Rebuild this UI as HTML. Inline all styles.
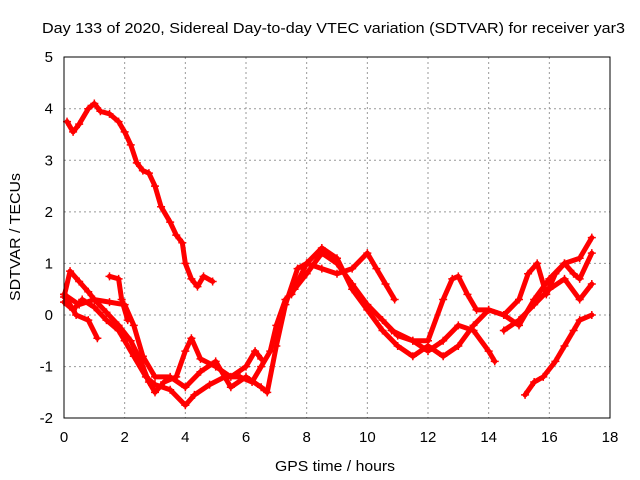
<!DOCTYPE html>
<html><head><meta charset="utf-8"><style>
body{margin:0;background:#fff}
svg{display:block;font-family:"Liberation Sans",sans-serif}
</style></head><body>
<svg id="c" width="640" height="480">
<rect width="640" height="480" fill="#fff"/>
<text x="42" y="33" font-size="15" textLength="583" lengthAdjust="spacingAndGlyphs">Day 133 of 2020, Sidereal Day-to-day VTEC variation (SDTVAR) for receiver yar3</text>
<text x="275" y="471" font-size="15" textLength="120" lengthAdjust="spacingAndGlyphs">GPS time / hours</text>
<text transform="translate(20,301) rotate(-90)" font-size="15" textLength="128" lengthAdjust="spacingAndGlyphs">SDTVAR / TECUs</text>
<g id="grid"></g><g id="marks"></g>
<rect x="64" y="57" width="546" height="361" fill="none" stroke="#000"/>
</svg>
<script>
const xTicks=[0,2,4,6,8,10,12,14,16,18];
const yTicks=[-2,-1,0,1,2,3,4,5];
const trackA=[[0.1,3.75],[0.3,3.55],[0.5,3.7],[0.8,4.0],[1.0,4.1],[1.2,3.95],[1.5,3.9],[1.8,3.75],[2.0,3.55],[2.2,3.3],[2.4,2.95],[2.6,2.8],[2.8,2.75],[3.0,2.5],[3.2,2.1],[3.5,1.8],[3.7,1.55],[3.9,1.4],[4.0,1.0],[4.2,0.7],[4.4,0.55],[4.6,0.75],[4.9,0.65]];
const trackB=[[0,0.35],[0.2,0.85],[0.5,0.65],[0.8,0.45],[1.0,0.3],[1.4,0.05],[1.8,-0.2],[2.2,-0.5],[2.5,-0.85],[2.8,-1.3],[3.0,-1.5],[3.3,-1.3],[3.7,-1.2],[4.0,-0.7],[4.2,-0.45],[4.5,-0.85],[5.0,-1.0],[5.5,-1.2],[6.0,-1.0],[6.3,-0.7],[6.5,-0.85]];
const trackC=[[0,0.25],[0.3,0.1],[0.6,0.3],[1.0,0.15],[1.4,-0.1],[1.8,-0.3],[2.0,-0.5],[2.3,-0.8],[2.7,-1.2],[3.0,-1.35],[3.5,-1.45],[4.0,-1.75],[4.3,-1.55],[4.8,-1.35],[5.3,-1.2],[5.8,-1.2],[6.2,-1.3],[6.5,-1.0],[6.8,-0.7],[7.0,-0.2],[7.3,0.3],[7.6,0.5],[8.0,0.8],[8.5,1.2],[9.0,1.0],[9.5,0.6],[10.0,0.2],[10.5,-0.1],[11.0,-0.4],[11.5,-0.5],[12.0,-0.7],[12.5,-0.5],[13.0,-0.2],[13.5,-0.3],[14.0,-0.7],[14.2,-0.9]];
const trackD=[[0,0.4],[0.5,0.2],[1.0,0.3],[1.5,0.25],[2.0,0.2],[2.3,-0.2],[2.6,-0.8],[3.0,-1.2],[3.5,-1.2],[4.0,-1.4],[4.5,-1.1],[5.0,-0.9],[5.5,-1.4],[6.0,-1.2],[6.5,-1.4],[6.7,-1.5],[7.0,-0.6],[7.3,0.2],[7.7,0.9],[8.0,1.0],[8.5,1.3],[9.0,1.1],[9.5,0.5],[10,0.1],[10.5,-0.3],[11,-0.6],[11.5,-0.8],[12,-0.6],[12.5,-0.8],[13,-0.6],[13.5,-0.2],[14,0.1],[14.5,0.0],[15,-0.2],[15.5,0.3],[16,0.7],[16.5,1.0],[17,1.1],[17.4,1.5]];
const trackE=[[7.5,0.4],[8.0,1.0],[8.5,0.9],[9.0,0.8],[9.5,0.9],[10.0,1.2],[10.3,0.9],[10.6,0.6],[10.9,0.3]];
const trackF=[[10.8,-0.3],[11.5,-0.5],[12,-0.5],[12.5,0.3],[12.8,0.7],[13.0,0.75],[13.3,0.4],[13.6,0.1],[14,0.1],[14.5,0.0],[15,0.3],[15.3,0.8],[15.6,1.0],[15.9,0.4],[16.2,0.8],[16.5,1.0],[16.8,0.8],[17.0,0.7],[17.4,1.2]];
const trackG=[[15.2,-1.55],[15.5,-1.3],[15.8,-1.2],[16.2,-0.9],[16.5,-0.6],[16.8,-0.3],[17,-0.1],[17.4,0.0]];
const trackH=[[14.5,-0.3],[15,-0.1],[15.5,0.2],[16,0.5],[16.5,0.7],[17,0.3],[17.4,0.6]];
const trackI=[[0,0.4],[0.4,0.0],[0.8,-0.1],[1.1,-0.45]];
const trackJ=[[1.5,0.75],[1.8,0.7],[1.9,0.3],[2.1,-0.1]];
const tracks=[trackA,trackB,trackC,trackD,trackE,trackF,trackG,trackH,trackI,trackJ];
const X=v=>64+v*(546/18), Y=v=>315-v*(361/7);
const NS="http://www.w3.org/2000/svg";
const grid=document.getElementById('grid'), marks=document.getElementById('marks');
function mk(t,a,p){const e=document.createElementNS(NS,t);for(const k in a)e.setAttribute(k,a[k]);p.appendChild(e);return e;}
xTicks.forEach(t=>{
 if(t>0&&t<18){const l=mk('line',{x1:X(t),x2:X(t),y1:57,y2:418,stroke:'#999','stroke-dasharray':'2,3'},grid);
 
 }
 const tx=mk('text',{x:X(t),y:442,'font-size':15,'text-anchor':'middle'},grid);tx.textContent=t;
 
 
});
yTicks.forEach(t=>{
 if(t>-2&&t<5){const l=mk('line',{x1:64,x2:610,y1:Y(t),y2:Y(t),stroke:'#999','stroke-dasharray':'2,3'},grid);
 
 }
 const tx=mk('text',{x:53,y:Y(t)+5,'font-size':15,'text-anchor':'end'},grid);tx.textContent=t;
 
 
});
tracks.forEach((tr,i)=>{
 const pl=mk('polyline',{points:tr.map(p=>X(p[0])+','+Y(p[1])).join(' '),fill:'none',stroke:'#f00','stroke-width':5,'stroke-linejoin':'round','stroke-linecap':'round'},marks);
 
 
 tr.forEach(p=>{const x=X(p[0]),y=Y(p[1]);
  const m=mk('path',{d:`M${x-4},${y}H${x+4}M${x},${y-4}V${y+4}`,stroke:'#f00','stroke-width':1.5},marks);
  
  
 });
});
</script>
</body></html>
